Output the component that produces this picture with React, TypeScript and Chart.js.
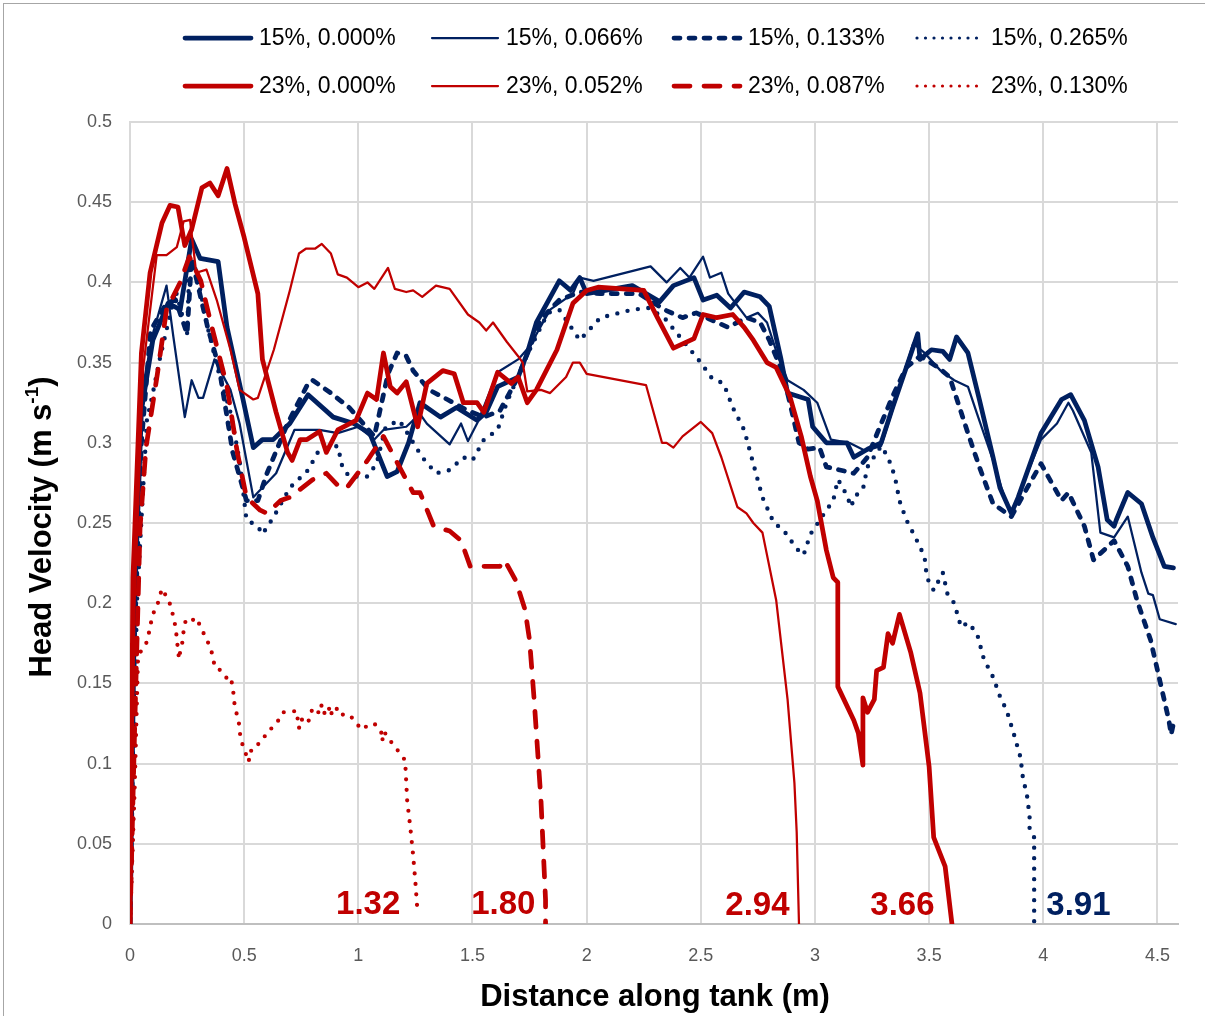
import React, { useEffect, useRef } from "react";
import { Chart, registerables } from "chart.js";
Chart.register(...registerables);

const NAVY = "#002060";
const RED = "#C00000";

const seriesNames = [
  "15%, 0.000%", "15%, 0.066%", "15%, 0.133%", "15%, 0.265%",
  "23%, 0.000%", "23%, 0.052%", "23%, 0.087%", "23%, 0.130%",
];

const xTickValues = [0, 0.5, 1, 1.5, 2, 2.5, 3, 3.5, 4, 4.5];
const yTickValues = [0, 0.05, 0.1, 0.15, 0.2, 0.25, 0.3, 0.35, 0.4, 0.45, 0.5];

const s15_000: [number, number][] = [
  [0, 0], [0.02, 0.2], [0.05, 0.32], [0.1, 0.364], [0.167, 0.387], [0.22, 0.383], [0.27, 0.427], [0.307, 0.415],
  [0.386, 0.413], [0.425, 0.372], [0.495, 0.327], [0.54, 0.297], [0.58, 0.302], [0.627, 0.302], [0.7, 0.312],
  [0.78, 0.33], [0.89, 0.316], [0.98, 0.312], [1.05, 0.306], [1.126, 0.279], [1.17, 0.282], [1.22, 0.3],
  [1.27, 0.325], [1.36, 0.316], [1.43, 0.322], [1.52, 0.314], [1.56, 0.319], [1.61, 0.335], [1.7, 0.341],
  [1.74, 0.356], [1.78, 0.375], [1.88, 0.401], [1.93, 0.395], [1.97, 0.403], [2.0, 0.393], [2.2, 0.398],
  [2.32, 0.388], [2.38, 0.398], [2.47, 0.403], [2.51, 0.389], [2.57, 0.392], [2.63, 0.384], [2.69, 0.394],
  [2.76, 0.391], [2.8, 0.385], [2.85, 0.353], [2.88, 0.331], [2.97, 0.327], [2.99, 0.31], [3.05, 0.3],
  [3.14, 0.3], [3.17, 0.291], [3.23, 0.296], [3.29, 0.3], [3.34, 0.322], [3.4, 0.347], [3.45, 0.368],
  [3.46, 0.352], [3.51, 0.358], [3.56, 0.357], [3.59, 0.352], [3.62, 0.366], [3.67, 0.356], [3.72, 0.327],
  [3.78, 0.291], [3.81, 0.272], [3.86, 0.256], [3.89, 0.266], [3.99, 0.306], [4.08, 0.327], [4.12, 0.33],
  [4.18, 0.314], [4.24, 0.285], [4.28, 0.252], [4.31, 0.248], [4.32, 0.252], [4.37, 0.269], [4.43, 0.262],
  [4.48, 0.241], [4.53, 0.223], [4.57, 0.222],
];

const s15_066: [number, number][] = [
  [0, 0], [0.02, 0.2], [0.05, 0.33], [0.1, 0.368], [0.16, 0.398], [0.19, 0.366], [0.24, 0.316], [0.27, 0.339],
  [0.3, 0.328], [0.32, 0.328], [0.37, 0.352], [0.44, 0.333], [0.48, 0.312], [0.54, 0.266], [0.64, 0.281],
  [0.72, 0.308], [0.83, 0.308], [0.91, 0.306], [1.0, 0.31], [1.07, 0.302], [1.11, 0.308], [1.21, 0.31],
  [1.27, 0.318], [1.3, 0.312], [1.4, 0.299], [1.45, 0.312], [1.48, 0.301], [1.52, 0.312], [1.61, 0.344],
  [1.7, 0.352], [1.75, 0.36], [1.84, 0.383], [1.94, 0.393], [1.97, 0.403], [2.03, 0.401], [2.28, 0.41],
  [2.35, 0.4], [2.41, 0.409], [2.45, 0.403], [2.51, 0.416], [2.54, 0.403], [2.59, 0.406], [2.62, 0.393],
  [2.7, 0.378], [2.75, 0.381], [2.79, 0.375], [2.84, 0.353], [2.88, 0.339], [2.95, 0.333], [3.01, 0.325],
  [3.07, 0.302], [3.15, 0.3], [3.22, 0.295], [3.29, 0.298], [3.39, 0.343], [3.43, 0.362], [3.48, 0.356],
  [3.55, 0.345], [3.61, 0.339], [3.67, 0.335], [3.71, 0.318], [3.78, 0.289], [3.83, 0.266], [3.86, 0.256],
  [3.93, 0.281], [3.99, 0.302], [4.06, 0.312], [4.11, 0.325], [4.13, 0.32], [4.21, 0.294], [4.25, 0.244],
  [4.31, 0.241], [4.37, 0.254], [4.43, 0.219], [4.46, 0.206], [4.48, 0.205], [4.51, 0.19], [4.58, 0.187],
];

const s15_133: [number, number][] = [
  [0, 0], [0.02, 0.18], [0.05, 0.3], [0.09, 0.37], [0.16, 0.387], [0.2, 0.389], [0.25, 0.368], [0.27, 0.415],
  [0.34, 0.372], [0.39, 0.347], [0.45, 0.294], [0.51, 0.264], [0.56, 0.264], [0.6, 0.281], [0.69, 0.312],
  [0.78, 0.337], [0.8, 0.339], [0.88, 0.331], [0.96, 0.322], [1.07, 0.304], [1.13, 0.343], [1.17, 0.356],
  [1.21, 0.354], [1.24, 0.345], [1.31, 0.333], [1.39, 0.327], [1.48, 0.32], [1.55, 0.316], [1.62, 0.32],
  [1.7, 0.341], [1.8, 0.377], [1.88, 0.389], [1.97, 0.394], [2.06, 0.393], [2.23, 0.393], [2.34, 0.383],
  [2.42, 0.378], [2.48, 0.381], [2.54, 0.377], [2.62, 0.372], [2.7, 0.378], [2.76, 0.375], [2.8, 0.364],
  [2.86, 0.343], [2.89, 0.325], [2.93, 0.3], [2.97, 0.296], [3.02, 0.297], [3.05, 0.285], [3.17, 0.281],
  [3.23, 0.291], [3.29, 0.312], [3.34, 0.329], [3.4, 0.347], [3.46, 0.354], [3.54, 0.347], [3.59, 0.341],
  [3.67, 0.306], [3.72, 0.285], [3.78, 0.262], [3.86, 0.254], [3.93, 0.272], [3.99, 0.287], [4.08, 0.264],
  [4.11, 0.269], [4.18, 0.248], [4.22, 0.227], [4.31, 0.239], [4.37, 0.223], [4.41, 0.202], [4.47, 0.177],
  [4.51, 0.152], [4.55, 0.127], [4.56, 0.118], [4.57, 0.125],
];

const s15_265: [number, number][] = [
  [0, 0], [0.01, 0.05], [0.03, 0.2], [0.074, 0.314], [0.1, 0.331], [0.13, 0.352], [0.2, 0.395], [0.25, 0.368],
  [0.26, 0.41], [0.29, 0.408], [0.34, 0.372], [0.39, 0.343], [0.44, 0.319], [0.48, 0.289], [0.51, 0.252],
  [0.56, 0.248], [0.58, 0.243], [0.63, 0.254], [0.7, 0.272], [0.78, 0.283], [0.83, 0.296], [0.91, 0.298],
  [0.93, 0.285], [0.96, 0.279], [1.04, 0.279], [1.08, 0.287], [1.12, 0.31], [1.18, 0.314], [1.28, 0.291],
  [1.34, 0.281], [1.4, 0.283], [1.46, 0.291], [1.5, 0.289], [1.55, 0.302], [1.61, 0.308], [1.65, 0.325],
  [1.74, 0.355], [1.83, 0.381], [1.88, 0.383], [1.97, 0.364], [2.06, 0.378], [2.2, 0.383], [2.27, 0.384],
  [2.34, 0.378], [2.42, 0.364], [2.5, 0.35], [2.55, 0.34], [2.6, 0.337], [2.64, 0.322], [2.69, 0.308],
  [2.73, 0.287], [2.77, 0.266], [2.82, 0.25], [2.86, 0.246], [2.92, 0.234], [2.95, 0.23], [2.98, 0.243],
  [3.05, 0.258], [3.08, 0.264], [3.1, 0.277], [3.12, 0.273], [3.16, 0.26], [3.17, 0.266], [3.21, 0.271],
  [3.23, 0.285], [3.29, 0.298], [3.32, 0.291], [3.35, 0.279], [3.37, 0.264], [3.4, 0.252], [3.44, 0.241],
  [3.48, 0.229], [3.49, 0.216], [3.52, 0.208], [3.56, 0.219], [3.58, 0.206], [3.61, 0.2], [3.64, 0.185],
  [3.67, 0.188], [3.71, 0.181], [3.74, 0.165], [3.78, 0.154], [3.81, 0.142], [3.84, 0.133], [3.87, 0.119],
  [3.9, 0.104], [3.91, 0.092], [3.93, 0.079], [3.94, 0.067], [3.94, 0.059], [3.96, 0.054], [3.96, 0.036],
  [3.96, 0],
];

const s23_000: [number, number][] = [
  [0, 0], [0.013, 0.216], [0.05, 0.356], [0.088, 0.406], [0.14, 0.437], [0.175, 0.448], [0.21, 0.447],
  [0.24, 0.423], [0.27, 0.433], [0.315, 0.459], [0.35, 0.462], [0.386, 0.454], [0.425, 0.471], [0.46, 0.449],
  [0.5, 0.428], [0.56, 0.393], [0.58, 0.352], [0.64, 0.319], [0.69, 0.294], [0.71, 0.289], [0.745, 0.302],
  [0.775, 0.302], [0.83, 0.307], [0.86, 0.294], [0.91, 0.308], [0.99, 0.314], [1.04, 0.331], [1.08, 0.327],
  [1.11, 0.356], [1.14, 0.335], [1.17, 0.331], [1.21, 0.338], [1.26, 0.31], [1.3, 0.337], [1.37, 0.345],
  [1.42, 0.343], [1.46, 0.325], [1.52, 0.325], [1.55, 0.319], [1.61, 0.344], [1.67, 0.337], [1.7, 0.341],
  [1.74, 0.325], [1.78, 0.333], [1.87, 0.358], [1.94, 0.387], [2.0, 0.395], [2.05, 0.397], [2.25, 0.395],
  [2.31, 0.378], [2.38, 0.359], [2.47, 0.365], [2.51, 0.38], [2.57, 0.378], [2.64, 0.38], [2.69, 0.372],
  [2.73, 0.364], [2.79, 0.35], [2.83, 0.347], [2.89, 0.329], [2.94, 0.304], [2.98, 0.279], [3.01, 0.264],
  [3.05, 0.233], [3.08, 0.216], [3.1, 0.213], [3.1, 0.148], [3.17, 0.127], [3.19, 0.119], [3.21, 0.099],
  [3.21, 0.141], [3.23, 0.132], [3.26, 0.14], [3.27, 0.158], [3.3, 0.16], [3.32, 0.181], [3.34, 0.175],
  [3.37, 0.193], [3.42, 0.169], [3.46, 0.144], [3.5, 0.098], [3.52, 0.054], [3.57, 0.036], [3.6, 0],
];

const s23_052: [number, number][] = [
  [0, 0], [0.02, 0.2], [0.058, 0.347], [0.117, 0.417], [0.16, 0.417], [0.205, 0.422], [0.235, 0.438],
  [0.263, 0.439], [0.29, 0.406], [0.335, 0.408], [0.38, 0.389], [0.44, 0.358], [0.48, 0.333], [0.54, 0.327],
  [0.56, 0.328], [0.63, 0.358], [0.7, 0.395], [0.74, 0.418], [0.77, 0.421], [0.81, 0.421], [0.84, 0.424],
  [0.88, 0.418], [0.91, 0.405], [0.95, 0.403], [1.0, 0.397], [1.04, 0.4], [1.07, 0.396], [1.13, 0.409],
  [1.16, 0.396], [1.21, 0.394], [1.24, 0.395], [1.28, 0.391], [1.34, 0.398], [1.4, 0.396], [1.48, 0.38],
  [1.53, 0.375], [1.56, 0.37], [1.59, 0.375], [1.65, 0.363], [1.7, 0.354], [1.72, 0.35], [1.74, 0.332],
  [1.8, 0.333], [1.84, 0.331], [1.91, 0.341], [1.94, 0.35], [1.97, 0.35], [2.0, 0.343], [2.26, 0.336],
  [2.33, 0.3], [2.35, 0.3], [2.38, 0.297], [2.42, 0.304], [2.5, 0.313], [2.55, 0.306], [2.59, 0.291],
  [2.66, 0.26], [2.7, 0.256], [2.73, 0.25], [2.77, 0.244], [2.83, 0.202], [2.88, 0.14], [2.91, 0.088],
  [2.92, 0.057], [2.93, 0],
];

const s23_087: [number, number][] = [
  [0, 0], [0.02, 0.12], [0.044, 0.247], [0.07, 0.297], [0.12, 0.343], [0.16, 0.383], [0.22, 0.4], [0.26, 0.416],
  [0.31, 0.401], [0.35, 0.377], [0.425, 0.335], [0.47, 0.294], [0.51, 0.266], [0.57, 0.258], [0.6, 0.256],
  [0.66, 0.264], [0.7, 0.266], [0.8, 0.277], [0.86, 0.281], [0.92, 0.272], [0.95, 0.272], [1.04, 0.289],
  [1.11, 0.304], [1.18, 0.285], [1.24, 0.269], [1.27, 0.269], [1.33, 0.248], [1.4, 0.245], [1.45, 0.239],
  [1.49, 0.223], [1.62, 0.223], [1.64, 0.227], [1.69, 0.214], [1.73, 0.196], [1.75, 0.177], [1.77, 0.14],
  [1.8, 0.077], [1.82, 0.015], [1.82, 0],
];

const s23_130: [number, number][] = [
  [0, 0], [0.02, 0.082], [0.035, 0.165], [0.05, 0.171], [0.075, 0.176], [0.095, 0.19], [0.11, 0.197],
  [0.12, 0.199], [0.14, 0.209], [0.16, 0.204], [0.18, 0.198], [0.19, 0.191], [0.2, 0.185], [0.205, 0.178],
  [0.21, 0.171], [0.215, 0.165], [0.22, 0.17], [0.23, 0.176], [0.235, 0.183], [0.245, 0.19], [0.27, 0.189],
  [0.29, 0.191], [0.31, 0.185], [0.33, 0.179], [0.35, 0.173], [0.365, 0.166], [0.37, 0.16], [0.4, 0.158],
  [0.425, 0.153], [0.44, 0.154], [0.45, 0.148], [0.455, 0.141], [0.46, 0.134], [0.475, 0.128], [0.48, 0.121],
  [0.485, 0.115], [0.5, 0.109], [0.52, 0.101], [0.525, 0.108], [0.54, 0.108], [0.56, 0.112], [0.58, 0.114],
  [0.6, 0.12], [0.63, 0.123], [0.65, 0.127], [0.67, 0.132], [0.7, 0.132], [0.73, 0.133], [0.735, 0.127],
  [0.74, 0.122], [0.75, 0.128], [0.76, 0.126], [0.78, 0.125], [0.79, 0.132], [0.81, 0.135], [0.83, 0.131],
  [0.84, 0.137], [0.855, 0.13], [0.87, 0.133], [0.875, 0.136], [0.885, 0.13], [0.91, 0.135], [0.935, 0.13],
  [0.965, 0.13], [0.99, 0.125], [1.02, 0.121], [1.04, 0.124], [1.07, 0.125], [1.1, 0.12], [1.105, 0.114],
  [1.11, 0.12], [1.13, 0.117], [1.15, 0.112], [1.18, 0.107], [1.205, 0.102], [1.21, 0.088], [1.215, 0.074],
  [1.22, 0.07], [1.23, 0.057], [1.24, 0.043], [1.25, 0.026], [1.26, 0.006],
];

const allSeries = [s15_000, s15_066, s15_133, s15_265, s23_000, s23_052, s23_087, s23_130];

const endLabels = ["1.32", "1.80", "2.94", "3.66", "3.91"];
const endLabelX = [1.043, 1.635, 2.748, 3.383, 4.154];
const endLabelY = [0.012, 0.012, 0.011, 0.011, 0.011];
const endLabelIsNavy = [false, false, false, false, true];

const FONT = "'Liberation Sans', Arial, sans-serif";

type Style = { color: string; width: number; dash: number[]; cap: CanvasLineCap };
const styles: Style[] = [
  { color: NAVY, width: 4.75, dash: [], cap: "round" },
  { color: NAVY, width: 2.25, dash: [], cap: "round" },
  { color: NAVY, width: 4.75, dash: [6, 9], cap: "round" },
  { color: NAVY, width: 4.4, dash: [0, 10.5], cap: "round" },
  { color: RED, width: 4.75, dash: [], cap: "round" },
  { color: RED, width: 2.25, dash: [], cap: "round" },
  { color: RED, width: 4.75, dash: [16, 14], cap: "round" },
  { color: RED, width: 4.2, dash: [0, 10.5], cap: "round" },
];
const legendStyles: Style[] = styles.map((s, i) =>
  i === 3 || i === 7 ? { ...s, width: 3.2, dash: [0, 8.5] } : s
);

function fmt(v: number) {
  return String(Number(v.toFixed(3)));
}

export default function App() {
  const ref = useRef<HTMLCanvasElement>(null);

  useEffect(() => {
    document.body.style.margin = "0";
    const canvas = ref.current!;

    const overlay = {
      id: "overlay",
      afterDraw(chart: any) {
        const ctx: CanvasRenderingContext2D = chart.ctx;
        const xs = chart.scales.x;
        const ys = chart.scales.y;

        ctx.save();
        ctx.strokeStyle = "#a6a6a6";
        ctx.lineWidth = 1;
        ctx.strokeRect(3.5, 3.5, 1205, 1016);
        ctx.restore();

        const colX = [183, 430, 672, 915];
        const rowY = [38, 86];
        const len = 70;
        for (let i = 0; i < seriesNames.length; i++) {
          const st = legendStyles[i];
          const r = Math.floor(i / 4);
          const c = i % 4;
          const x0 = colX[c];
          const y0 = rowY[r];
          ctx.save();
          ctx.strokeStyle = st.color;
          ctx.lineWidth = st.width;
          ctx.setLineDash(st.dash);
          ctx.lineCap = st.cap;
          ctx.beginPath();
          ctx.moveTo(x0 + 2, y0);
          ctx.lineTo(x0 + len - 2, y0);
          ctx.stroke();
          ctx.restore();
          ctx.save();
          ctx.fillStyle = "#000";
          ctx.font = `23px ${FONT}`;
          ctx.textAlign = "left";
          ctx.textBaseline = "middle";
          ctx.fillText(seriesNames[i], x0 + len + 6, y0 + 1);
          ctx.restore();
        }

        for (let i = 0; i < endLabels.length; i++) {
          ctx.save();
          ctx.fillStyle = endLabelIsNavy[i] ? NAVY : RED;
          ctx.font = `bold 33px ${FONT}`;
          ctx.textAlign = "center";
          ctx.textBaseline = "middle";
          ctx.fillText(endLabels[i], xs.getPixelForValue(endLabelX[i]), ys.getPixelForValue(endLabelY[i]));
          ctx.restore();
        }

        ctx.save();
        ctx.fillStyle = "#000";
        ctx.font = `bold 31px ${FONT}`;
        ctx.textAlign = "center";
        ctx.textBaseline = "middle";
        ctx.fillText("Distance along tank (m)", 655, 997);
        ctx.restore();

        ctx.save();
        ctx.fillStyle = "#000";
        ctx.translate(42, 527);
        ctx.rotate(-Math.PI / 2);
        const fMain = `bold 31px ${FONT}`;
        const fSup = `bold 19px ${FONT}`;
        const t1 = "Head Velocity (m s";
        const t2 = "-1";
        const t3 = ")";
        ctx.font = fMain;
        const w1 = ctx.measureText(t1).width;
        const w3 = ctx.measureText(t3).width;
        ctx.font = fSup;
        const w2 = ctx.measureText(t2).width;
        let px = -(w1 + w2 + w3) / 2;
        ctx.textAlign = "left";
        ctx.textBaseline = "middle";
        ctx.font = fMain;
        ctx.fillText(t1, px, 0);
        px += w1;
        ctx.font = fSup;
        ctx.fillText(t2, px, -9);
        px += w2;
        ctx.font = fMain;
        ctx.fillText(t3, px, 0);
        ctx.restore();
      },
    };

    const datasets = allSeries.map((s, i) => ({
      label: seriesNames[i],
      data: s.map(([x, y]) => ({ x, y })),
      borderColor: styles[i].color,
      backgroundColor: styles[i].color,
      borderWidth: styles[i].width,
      borderDash: styles[i].dash,
      borderCapStyle: styles[i].cap,
      borderJoinStyle: "round" as CanvasLineJoin,
      pointRadius: 0,
      pointHoverRadius: 0,
      showLine: true,
      fill: false,
      tension: 0,
      order: allSeries.length - i,
    }));

    const chart = new Chart(canvas, {
      type: "scatter",
      data: { datasets },
      options: {
        animation: false,
        responsive: false,
        events: [],
        layout: { padding: { left: 0, top: 122, right: 27, bottom: 0 } },
        plugins: {
          legend: { display: false },
          tooltip: { enabled: false },
          title: { display: false },
        },
        scales: {
          x: {
            type: "linear",
            min: 0,
            max: 4.59,
            afterBuildTicks: (scale: any) => {
              scale.ticks = xTickValues.map((v) => ({ value: v }));
            },
            afterFit: (scale: any) => {
              scale.height = 92;
            },
            ticks: {
              callback: (v: any) => fmt(Number(v)),
              color: "#595959",
              font: { family: FONT, size: 18 },
              padding: 21,
              maxRotation: 0,
              autoSkip: false,
            },
            grid: { color: "#d9d9d9", lineWidth: 2, drawTicks: false },
            border: { color: "#bfbfbf", width: 2 },
          },
          y: {
            type: "linear",
            min: 0,
            max: 0.5,
            afterBuildTicks: (scale: any) => {
              scale.ticks = yTickValues.map((v) => ({ value: v }));
            },
            afterFit: (scale: any) => {
              scale.width = 130;
            },
            ticks: {
              callback: (v: any) => fmt(Number(v)),
              color: "#595959",
              font: { family: FONT, size: 18 },
              padding: 18,
              autoSkip: false,
            },
            grid: { color: "#d9d9d9", lineWidth: 2, drawTicks: false },
            border: { color: "#d9d9d9", width: 2 },
          },
        },
      },
      plugins: [overlay],
    } as any);

    return () => chart.destroy();
  }, []);

  return (
    <div style={{ width: 1205, height: 1016, position: "relative", background: "#fff" }}>
      <canvas ref={ref} width={1205} height={1016} style={{ display: "block" }} />
    </div>
  );
}
